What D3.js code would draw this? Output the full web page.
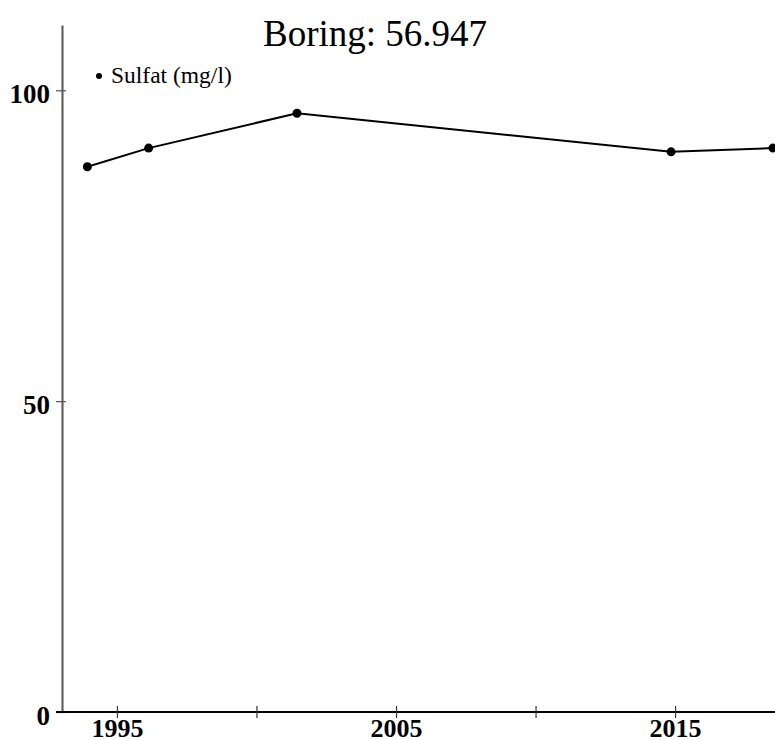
<!DOCTYPE html>
<html>
<head>
<meta charset="utf-8">
<script src="https://cdn.jsdelivr.net/npm/d3@7"></script>
<style>
  body { margin: 0; background: #fff; }
  svg { display: block; font-family: "Liberation Serif", "Times New Roman", serif; }
</style>
</head>
<body>
<div id="chart"></div>
<script>
const title = "Boring: 56.947";
const seriesName = "Sulfat (mg/l)";
const dates = ["1993-12-10", "1996-02-20", "2001-06-15", "2014-11-10", "2018-07-05"];
const values = [87.7, 90.7, 96.3, 90.1, 90.7];
const yTicks = [0, 50, 100];
const xTickYears = [1995, 2000, 2005, 2010, 2015];
const xLabelYears = [1995, 2005, 2015];

const width = 775;
const height = 740;

const parse = d3.timeParse("%Y-%m-%d");
const points = dates.map((d, i) => ({ date: parse(d), value: values[i] }));

const x = d3.scaleTime()
  .domain([new Date(1993, 0, 12), new Date(2018, 7, 1)])
  .range([62, 775]);

const y = d3.scaleLinear()
  .domain([0, 110.5])
  .range([712, 25]);

const svg = d3.select("#chart")
  .append("svg")
  .attr("width", width)
  .attr("height", height);

// title
svg.append("text")
  .attr("x", 375)
  .attr("y", 46)
  .attr("text-anchor", "middle")
  .attr("font-size", 37)
  .text(title);

// y axis
const yAxis = svg.append("g")
  .attr("transform", "translate(62,0)")
  .call(d3.axisLeft(y).tickValues(yTicks).tickSizeInner(6).tickSizeOuter(0).tickPadding(6));
yAxis.select(".domain").attr("stroke", "#555").attr("stroke-width", 2);
yAxis.selectAll(".tick line").attr("x2", 4).attr("x1", -6).attr("stroke", "#555").attr("stroke-width", 1.2);
yAxis.selectAll(".tick text")
  .attr("font-family", "Liberation Serif, serif")
  .attr("font-weight", "bold")
  .attr("font-size", 27)
  .attr("fill", "#000")
  .attr("dy", "0.45em");

// x axis
const xAxis = svg.append("g")
  .attr("transform", "translate(0,712)")
  .call(d3.axisBottom(x)
    .tickValues(xTickYears.map(yr => new Date(yr, 0, 1)))
    .tickFormat(d => xLabelYears.includes(d.getFullYear()) ? d.getFullYear() : "")
    .tickSizeOuter(0)
    .tickPadding(6));
xAxis.select(".domain").attr("stroke", "#000").attr("stroke-width", 2)
  .attr("d", "M56,0H775");
xAxis.selectAll(".tick line").attr("y1", -6).attr("y2", 6).attr("stroke", "#333").attr("stroke-width", 1.2);
xAxis.selectAll(".tick text")
  .attr("font-family", "Liberation Serif, serif")
  .attr("font-weight", "bold")
  .attr("font-size", 26)
  .attr("fill", "#000")
  .attr("dy", "0.5em");

// line
const line = d3.line()
  .x(d => x(d.date))
  .y(d => y(d.value));

svg.append("path")
  .datum(points)
  .attr("fill", "none")
  .attr("stroke", "#000")
  .attr("stroke-width", 2)
  .attr("d", line);

svg.append("g")
  .selectAll("circle")
  .data(points)
  .join("circle")
  .attr("cx", d => x(d.date))
  .attr("cy", d => y(d.value))
  .attr("r", 4.5)
  .attr("fill", "#000");

// legend
const legend = svg.append("g").attr("transform", "translate(99,76)");
legend.append("circle").attr("r", 3).attr("fill", "#000");
legend.append("text")
  .attr("x", 12)
  .attr("y", 7)
  .attr("font-size", 23.5)
  .text(seriesName);
</script>
</body>
</html>
